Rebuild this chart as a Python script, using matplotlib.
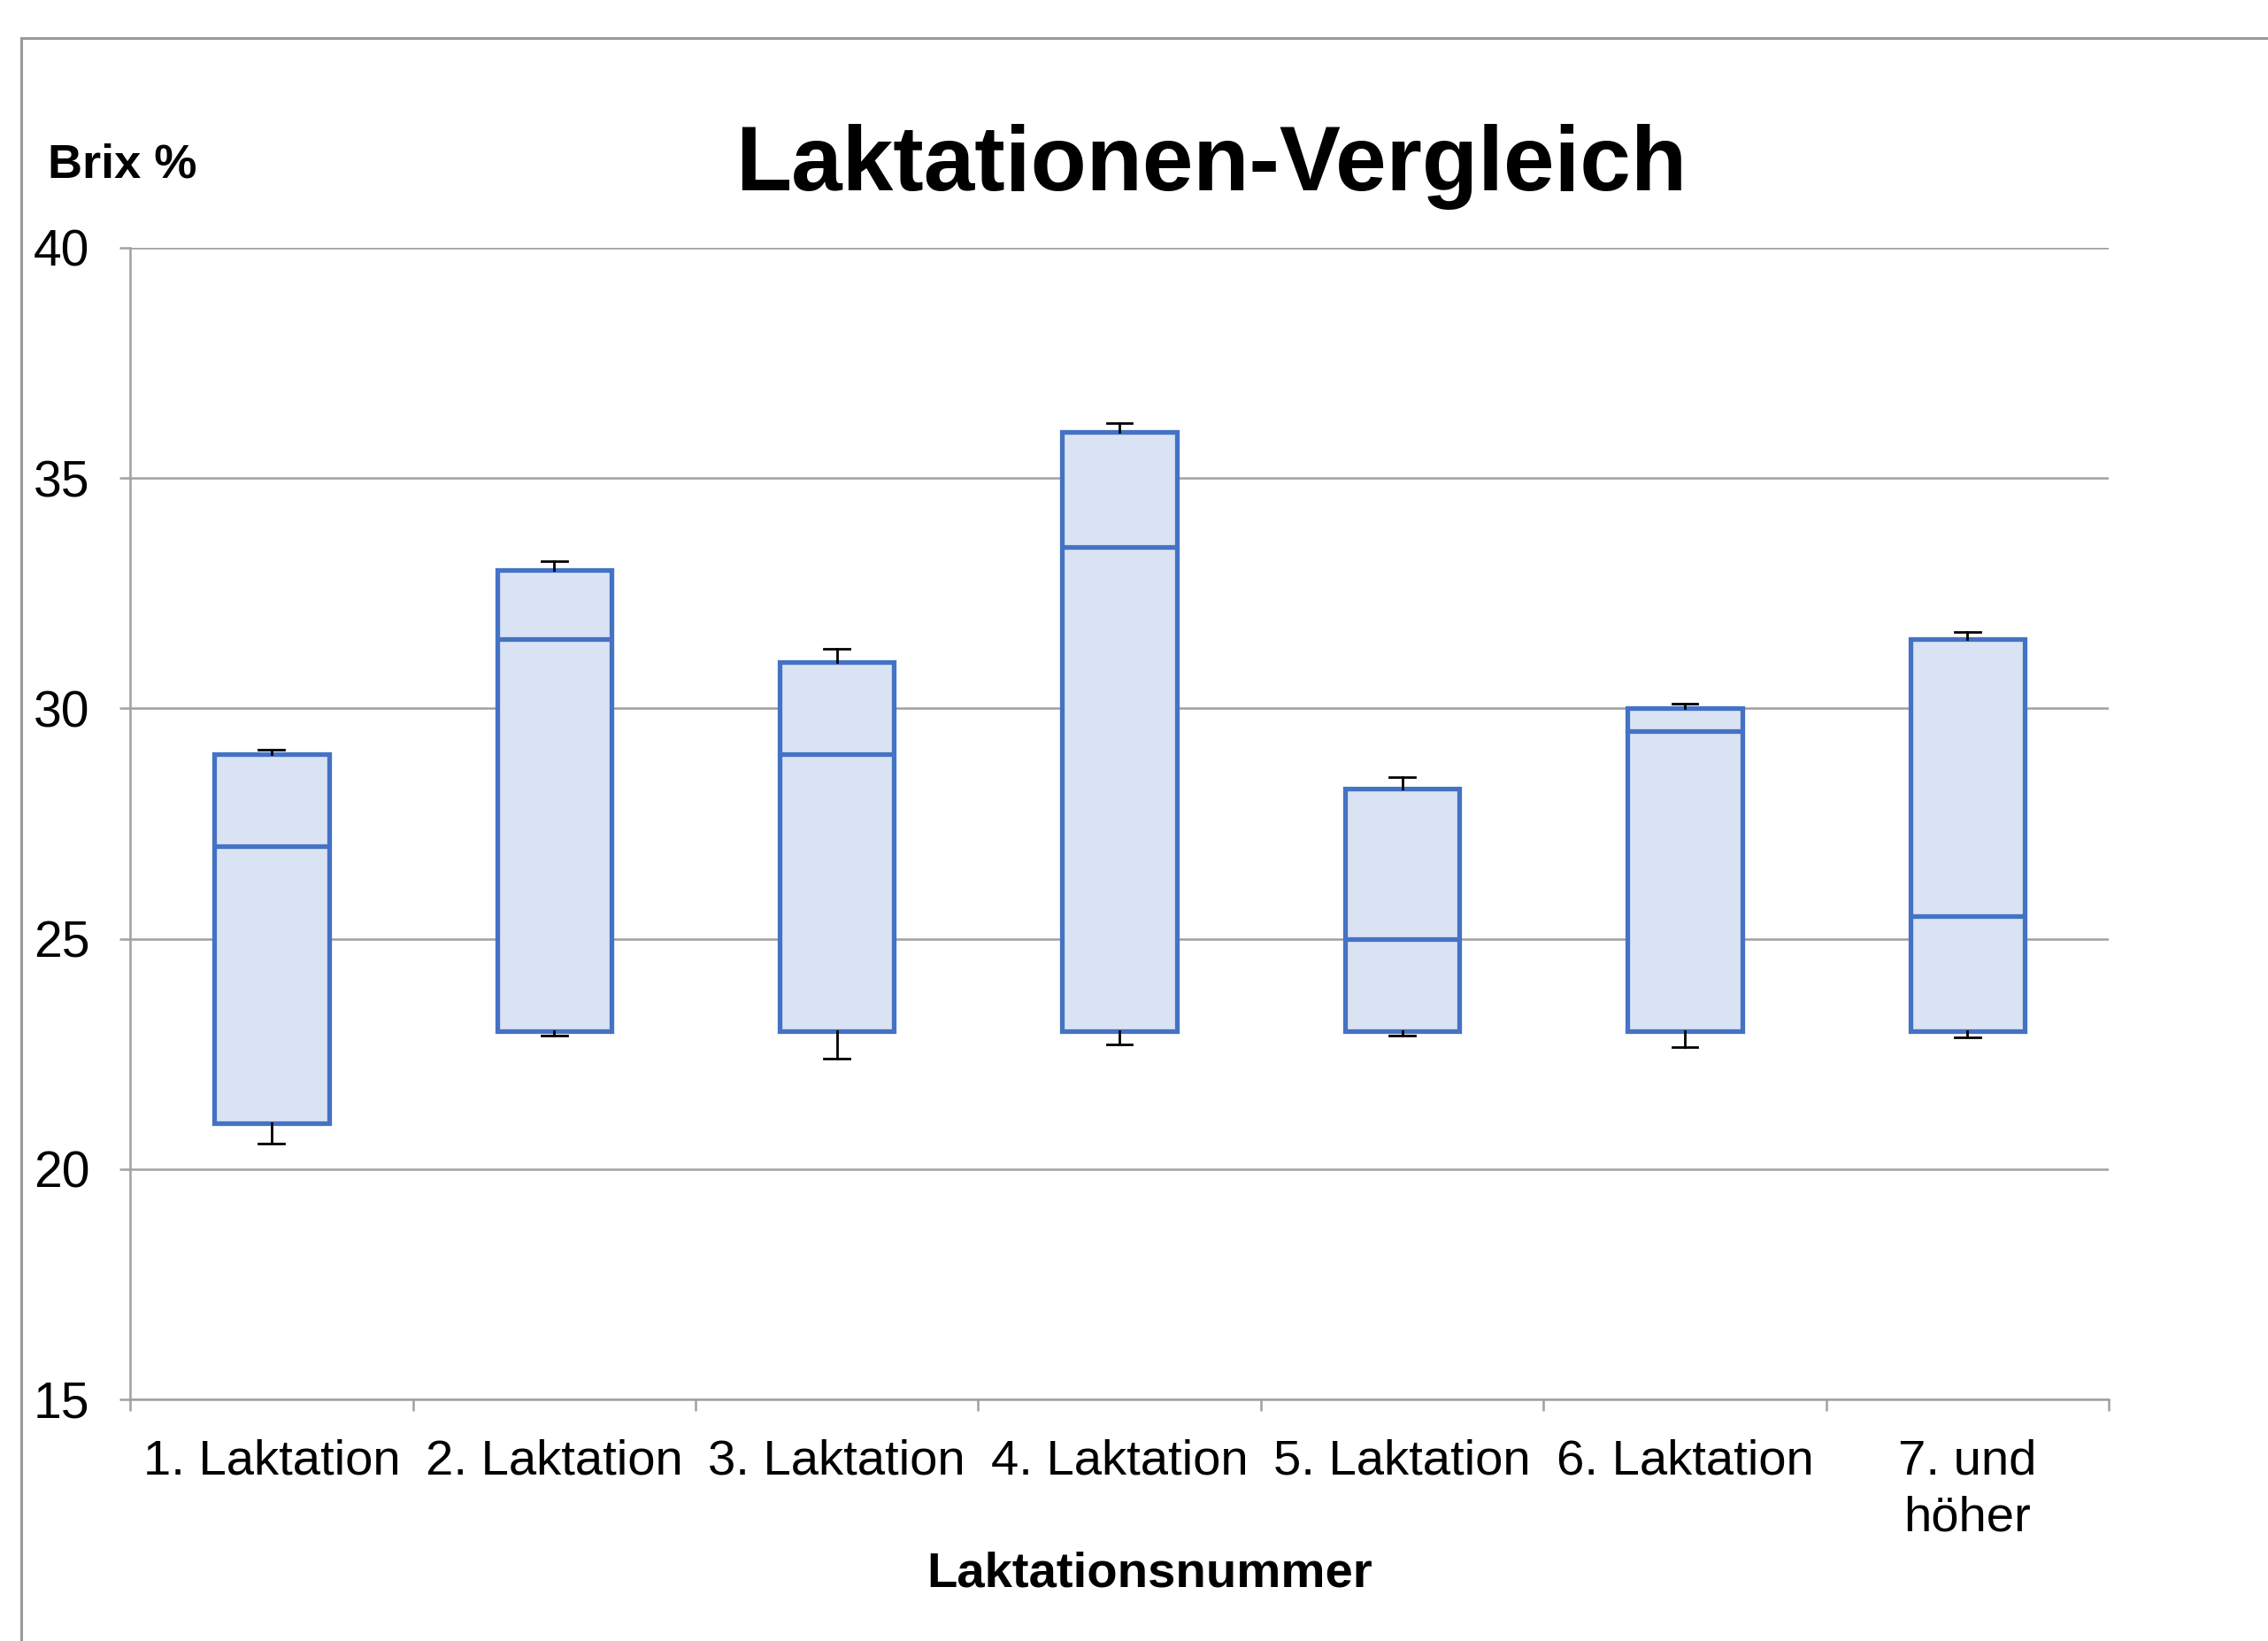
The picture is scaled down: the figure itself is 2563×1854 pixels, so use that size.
import matplotlib
matplotlib.use("Agg")
import matplotlib.pyplot as plt
from matplotlib.lines import Line2D
from matplotlib.ticker import FixedLocator, NullFormatter

categories = ["1. Laktation", "2. Laktation", "3. Laktation", "4. Laktation",
              "5. Laktation", "6. Laktation", "7. und\nhöher"]
q1 = [21.0, 23.0, 23.0, 23.0, 23.0, 23.0, 23.0]
median = [27.0, 31.5, 29.0, 33.5, 25.0, 29.5, 25.5]
q3 = [29.0, 33.0, 31.0, 36.0, 28.25, 30.0, 31.5]
whishi = [29.1, 33.2, 31.3, 36.2, 28.5, 30.1, 31.65]
whislo = [20.55, 22.9, 22.4, 22.7, 22.9, 22.65, 22.85]
yticks = [15, 20, 25, 30, 35, 40]

plt.rcParams['font.family'] = ['Liberation Sans', 'DejaVu Sans']

EDGE = '#4472C4'
FILL = '#DAE3F3'
GRID = '#A0A0A0'

fig = plt.figure(figsize=(25.63, 18.54), dpi=100)
ax = fig.add_axes([0.0574, 0.1473, 0.9298 - 0.0574, 0.849 - 0.1473])

stats = []
for i, c in enumerate(categories):
    stats.append(dict(med=median[i], q1=q1[i], q3=q3[i],
                      whislo=whislo[i], whishi=whishi[i], fliers=[], label=c))

positions = list(range(len(categories)))
ax.bxp(stats, positions=positions, widths=0.405, patch_artist=True,
       showfliers=False, manage_ticks=False, capwidths=0.09,
       boxprops=dict(facecolor=FILL, edgecolor=EDGE, linewidth=3.8),
       medianprops=dict(color=EDGE, linewidth=3.8),
       whiskerprops=dict(color='black', linewidth=2.0),
       capprops=dict(color='black', linewidth=2.0))

ax.set_xlim(-0.5, len(categories) - 0.5)
ax.set_ylim(15, 40)
ax.set_yticks(yticks)
ax.set_yticklabels([str(v) for v in yticks])
ax.yaxis.grid(True, color=GRID, linewidth=1.8)
ax.set_axisbelow(True)

for s in ['top', 'right']:
    ax.spines[s].set_visible(False)
for s in ['left', 'bottom']:
    ax.spines[s].set_color(GRID)
    ax.spines[s].set_linewidth(1.8)

ax.xaxis.set_major_locator(FixedLocator([p - 0.5 for p in positions] + [positions[-1] + 0.5]))
ax.xaxis.set_major_formatter(NullFormatter())
ax.xaxis.set_minor_locator(FixedLocator(positions))
ax.set_xticklabels(categories, minor=True)
ax.tick_params(axis='x', which='major', length=9, width=1.8, color=GRID, direction='out')
ax.tick_params(axis='x', which='minor', length=0, pad=32, labelsize=40.5)
ax.tick_params(axis='y', length=9, width=1.8, color=GRID, pad=24, labelsize=41)
for lab in ax.get_xticklabels(minor=True):
    lab.set_linespacing(1.3)

fig.text(0.534, 0.8985, "Laktationen-Vergleich", ha='center', va='center',
         fontsize=74.5, fontweight='bold')
fig.text(0.054, 0.8995, "Brix %", ha='center', va='center',
         fontsize=39, fontweight='bold')
fig.text(0.507, 0.0405, "Laktationsnummer", ha='center', va='center',
         fontsize=40.5, fontweight='bold')

# outer chart frame (left and top edges visible)
fig.add_artist(Line2D([24.5 / 2563, 24.5 / 2563], [0, 1 - 42.5 / 1854],
                      transform=fig.transFigure, color='#999999', linewidth=2.2))
fig.add_artist(Line2D([24.5 / 2563, 1], [1 - 42.5 / 1854, 1 - 42.5 / 1854],
                      transform=fig.transFigure, color='#999999', linewidth=2.2))

fig.savefig("out.png", dpi=100, facecolor='white')
